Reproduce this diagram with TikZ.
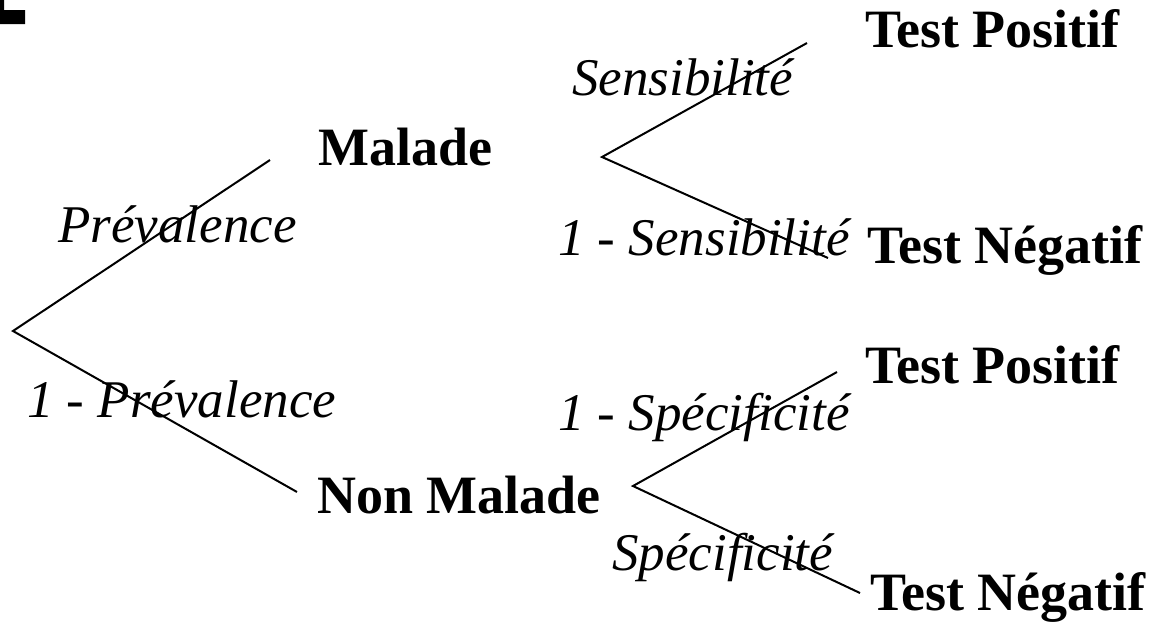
\documentclass[tikz,border=0pt]{standalone}
\usepackage{fontspec}
\setmainfont{Liberation Serif}
\tikzset{
  outcome/.style={anchor=base west, inner sep=0pt, font=\fontsize{54}{61}\selectfont\bfseries},
  prob/.style={anchor=base west, inner sep=0pt, font=\fontsize{53}{60}\selectfont\itshape},
  branch/.style={draw=black, line width=2pt},
}
\begin{document}
\begin{tikzpicture}[x=1pt,y=-1pt]
\useasboundingbox (0,0) rectangle (1151,622);
% corner fragment
\fill[black] (0,0) -- (4,0) -- (4,10) -- (25,10) -- (25,24) -- (0,24) -- cycle;
% branch points
\coordinate (root) at (13,331);
\coordinate (mEnd) at (270,160);
\coordinate (nmEnd) at (297,492);
\coordinate (m) at (602,157);
\coordinate (mp) at (807,43);
\coordinate (mn) at (828,258);
\coordinate (nm) at (633,486);
\coordinate (nmp) at (837,372);
\coordinate (nmn) at (860,593);
% connectors
\draw[branch] (mEnd) -- (root) -- (nmEnd);
\draw[branch] (mp) -- (m) -- (mn);
\draw[branch] (nmp) -- (nm) -- (nmn);
% outcomes
\node[outcome] (malade) at (318,165) {Malade};
\node[outcome] (nonmalade) at (317,513) {Non Malade};
\node[outcome] (tp1) at (865,47) {Test Positif};
\node[outcome] (tn1) at (867,263) {Test Négatif};
\node[outcome] (tp2) at (865,383) {Test Positif};
\node[outcome] (tn2) at (870,610) {Test Négatif};
% probabilities
\node[prob] (prev) at (58,242) {Prévalence};
\node[prob] (nprev) at (27,417) {1 - Prévalence};
\node[prob] (sens) at (572,95) {Sensibilité};
\node[prob] (nsens) at (558,255) {1 - Sensibilité};
\node[prob] (nspec) at (558,430) {1 - Spécificité};
\node[prob] (spec) at (612,570) {Spécificité};
\end{tikzpicture}
\end{document}
